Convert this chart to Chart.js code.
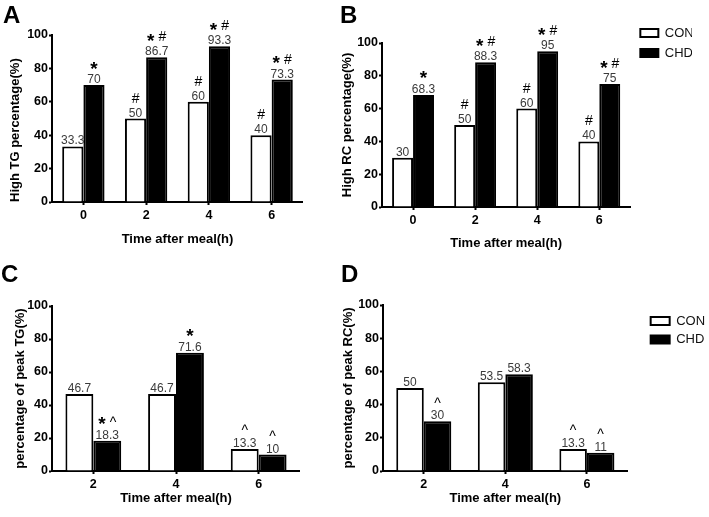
<!DOCTYPE html>
<html>
<head>
<meta charset="utf-8">
<script src="https://cdn.jsdelivr.net/npm/chart.js@4.4.0/dist/chart.umd.min.js"></script>
<style>
html,body{margin:0;padding:0;background:#fff;overflow:hidden;width:709px;height:517px;}
canvas{position:absolute;}
</style>
</head>
<body>
<canvas id="cA" width="300" height="250" style="left:3px;top:0px"></canvas>
<canvas id="cB" width="360" height="255" style="left:340px;top:0px"></canvas>
<canvas id="cC" width="299" height="253" style="left:1px;top:259px"></canvas>
<canvas id="cD" width="373" height="253" style="left:341px;top:259px"></canvas>
<script>
// ---------- data ----------
const seriesNames = ['CON', 'CHD'];
const hoursAB = ['0', '2', '4', '6'];
const hoursCD = ['2', '4', '6'];
const yTickValues = [0, 20, 40, 60, 80, 100];

const highTG_CON = [33.3, 50, 60, 40];
const highTG_CHD = [70, 86.7, 93.3, 73.3];
const highRC_CON = [30, 50, 60, 40];
const highRC_CHD = [68.3, 88.3, 95, 75];
const peakTG_CON = [46.7, 46.7, 13.3];
const peakTG_CHD = [18.3, 71.6, 10];
const peakRC_CON = [50, 53.5, 13.3];
const peakRC_CHD = [30, 58.3, 11];

const marksA_CON = ['', '#', '#', '#'];
const marksA_CHD = ['*', '*#', '*#', '*#'];
const marksB_CON = ['', '#', '#', '#'];
const marksB_CHD = ['*', '*#', '*#', '*#'];
const marksC_CON = ['', '', '^'];
const marksC_CHD = ['*^', '*', '^'];
const marksD_CON = ['', '', '^'];
const marksD_CHD = ['^', '', '^'];

// ---------- drawing ----------
const FONT = '"Liberation Sans", Arial, Helvetica, sans-serif';
Chart.defaults.font.family = FONT;
Chart.defaults.color = '#000';

const markStyle = {
  '*': {font: 'bold 19px ' + FONT, dy: 10.5},
  '#': {font: '14px ' + FONT, dy: 16},
  '^': {font: '14px ' + FONT, dy: 13.6}
};

const barLabels = {
  id: 'barLabels',
  afterDatasetsDraw(chart, args, opts) {
    const ctx = chart.ctx;
    chart.data.datasets.forEach((ds, di) => {
      const meta = chart.getDatasetMeta(di);
      const marks = (opts.marks || [])[di] || [];
      meta.data.forEach((bar, i) => {
        const x = bar.x, top = bar.y;
        ctx.save();
        ctx.textAlign = 'center';
        ctx.textBaseline = 'alphabetic';
        ctx.font = '12px ' + FONT;
        ctx.fillStyle = '#3a3a3a';
        ctx.fillText(String(ds.data[i]), x, top - 2);
        const m = marks[i] || '';
        if (m) {
          const chars = m.split('');
          const gap = 4;
          const widths = chars.map(c => { ctx.font = markStyle[c].font; return ctx.measureText(c).width; });
          const total = widths.reduce((a, b) => a + b, 0) + gap * (chars.length - 1);
          let cx = x - total / 2;
          ctx.textAlign = 'left';
          ctx.fillStyle = '#000';
          chars.forEach((c, k) => {
            ctx.font = markStyle[c].font;
            ctx.fillText(c, cx, top - markStyle[c].dy);
            cx += widths[k] + gap;
          });
        }
        ctx.restore();
      });
    });
  }
};

function axisStyle() {
  return {
    grid: {display: true, drawOnChartArea: false, drawTicks: true, tickLength: 3, tickWidth: 2, tickColor: '#000', color: '#000'},
    border: {display: true, color: '#000', width: 2}
  };
}

function buildPanel(id, p) {
  const scales = {
    x: Object.assign(axisStyle(), {
      type: 'category',
      offset: true,
      ticks: {color: '#000', padding: 3, font: {size: 12.5, weight: 'bold'}},
      title: {display: true, text: 'Time after meal(h)', color: '#000', font: {size: 13, weight: 'bold'}, padding: {top: 0, bottom: p.xTitlePad}},
      afterFit: s => { s.height = p.xH; }
    }),
    y: Object.assign(axisStyle(), {
      type: 'linear',
      position: 'left',
      min: 0, max: 100,
      afterBuildTicks: s => { s.ticks = yTickValues.map(v => ({value: v})); },
      ticks: {color: '#000', padding: 1, font: {size: 12.5, weight: 'bold'}},
      title: {display: true, text: p.yTitle, align: p.yAlign || 'center', color: '#000', font: {size: 13, weight: 'bold'}, padding: {top: p.yTitlePad, bottom: 0}},
      afterFit: s => { s.width = p.yW; }
    })
  };
  scales.x.grid.offset = false;
  if (p.legend) {
    scales.gap = {
      type: 'linear', position: 'right', display: true,
      grid: {display: false}, border: {display: false}, ticks: {display: false},
      afterFit: s => { s.width = p.gapW; }
    };
  }
  return new Chart(document.getElementById(id), {
    type: 'bar',
    data: {
      labels: p.labels,
      datasets: [
        {label: seriesNames[0], data: p.con, backgroundColor: '#ffffff', borderColor: '#000000', borderWidth: 2, yAxisID: 'y'},
        {label: seriesNames[1], data: p.chd, backgroundColor: '#000000', borderColor: '#000000', borderWidth: 2, yAxisID: 'y'}
      ]
    },
    options: {
      responsive: false,
      animation: false,
      devicePixelRatio: 1,
      layout: {padding: {left: 0, top: 0, bottom: 0, right: p.padR || 0}},
      datasets: {bar: {categoryPercentage: 0.675, barPercentage: 1, borderSkipped: 'start'}},
      plugins: {
        title: {display: true, text: p.letter, align: 'start', color: '#000', font: {size: 24, weight: 'bold'}, padding: {top: 2, bottom: p.titleBottom}},
        legend: p.legend ? {
          display: true, position: 'right', align: 'start',
          title: {display: true, text: ' ', font: {size: 10}, padding: {top: p.legTitlePad, bottom: 0}},
          labels: {boxWidth: p.boxW, boxHeight: 8, padding: p.legPad, color: '#111', font: {size: 13}}
        } : {display: false},
        tooltip: {enabled: false},
        barLabels: {marks: p.marks}
      },
      scales: scales
    },
    plugins: [barLabels]
  });
}

buildPanel('cA', {
  letter: 'A', yTitle: 'High TG percentage(%)', yAlign: 'start', labels: hoursAB,
  con: highTG_CON, chd: highTG_CHD, marks: [marksA_CON, marksA_CHD],
  titleBottom: 4.2, yW: 49, yTitlePad: 4.2, xH: 48, xTitlePad: 3.2, legend: false
});
buildPanel('cB', {
  letter: 'B', yTitle: 'High RC percentage(%)', labels: hoursAB,
  con: highRC_CON, chd: highRC_CHD, marks: [marksB_CON, marksB_CHD],
  titleBottom: 12.2, yW: 42, yTitlePad: 0, xH: 48, xTitlePad: 4.2,
  legend: true, gapW: 3, legPad: 7, boxW: 18, legTitlePad: 7.5, padR: 8
});
buildPanel('cC', {
  letter: 'C', yTitle: 'percentage of peak TG(%)', labels: hoursCD,
  con: peakTG_CON, chd: peakTG_CHD, marks: [marksC_CON, marksC_CHD],
  titleBottom: 16.2, yW: 51, yTitlePad: 11.2, xH: 41, xTitlePad: 6.2, legend: false
});
buildPanel('cD', {
  letter: 'D', yTitle: 'percentage of peak RC(%)', labels: hoursCD,
  con: peakRC_CON, chd: peakRC_CHD, marks: [marksD_CON, marksD_CHD],
  titleBottom: 15.2, yW: 42, yTitlePad: 0, xH: 41, xTitlePad: 6.2,
  legend: true, gapW: 17.5, legPad: 5.5, boxW: 19, legTitlePad: 38, padR: 8
});
</script>
</body>
</html>
